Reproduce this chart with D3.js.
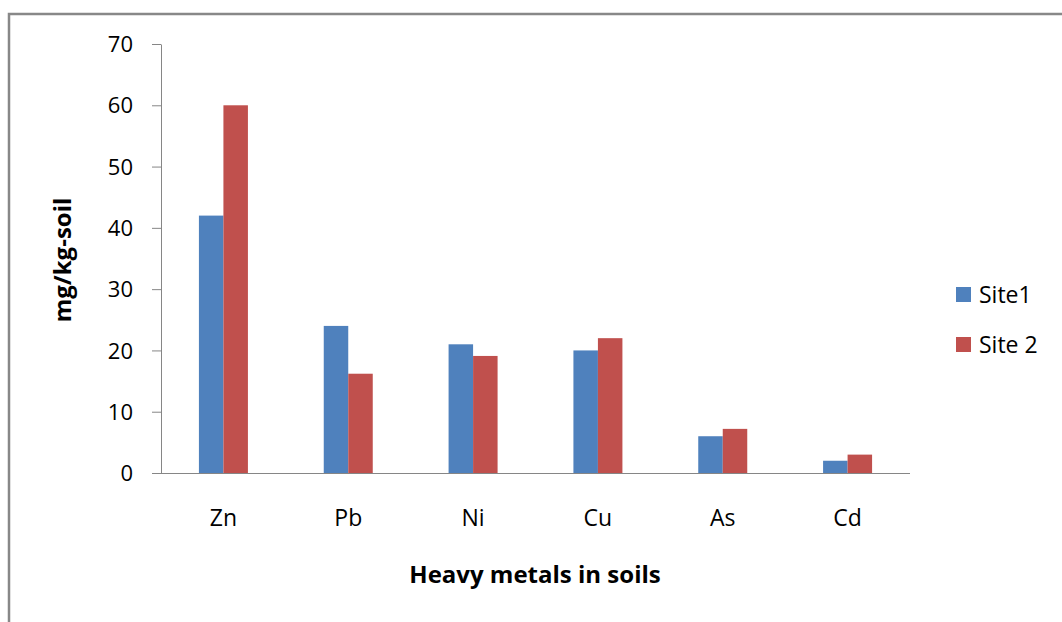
<!DOCTYPE html>
<html>
<head>
<meta charset="utf-8">
<script src="https://cdn.jsdelivr.net/npm/d3@7"></script>
<style>
	body { margin: 0; background: #fff; }
	svg text { font-family: "Open Sans", "Noto Sans", sans-serif; fill: #000; }
	.y.axis text { font-size: 22px; }
	.x.axis text { font-size: 23px; }
	.title { font-weight: bold; font-size: 24px; }
	.legend text { font-size: 23px; }
</style>
</head>
<body>
<div id="chart"></div>
<script>
"use strict";

var metals = ["Zn", "Pb", "Ni", "Cu", "As", "Cd"];
var seriesNames = ["Site1", "Site 2"];
var site1 = [42, 24, 21, 20, 6, 2];
var site2 = [60, 16.2, 19.1, 22, 7.2, 3];
var yTicks = [0, 10, 20, 30, 40, 50, 60, 70];
var colors = ["#4F81BD", "#C0504D"];

var W = 1062, H = 622;
var svg = d3.select("#chart").append("svg")
	.attr("width", W)
	.attr("height", H);

// outer frame
svg.append("rect")
	.attr("x", 9).attr("y", 14)
	.attr("width", W + 20).attr("height", H + 20)
	.attr("fill", "none")
	.attr("stroke", "#888")
	.attr("stroke-width", 2.5);

var plot = {left: 161, right: 910, top: 44, bottom: 473};

var scaleX = d3.scaleBand()
	.domain(metals)
	.range([plot.left, plot.right]);
var scaleY = d3.scaleLinear()
	.domain([0, 70])
	.range([plot.bottom, plot.top]);

var barW = 24.5;

// y axis
var yAxis = svg.append("g")
	.attr("class", "y axis")
	.attr("transform", "translate(" + plot.left + ",0)")
	.call(d3.axisLeft(scaleY).tickValues(yTicks).tickSizeInner(9).tickSizeOuter(0).tickPadding(19));
yAxis.select(".domain").attr("stroke", "#868686");
yAxis.selectAll(".tick line").attr("stroke", "#868686");
yAxis.selectAll(".tick text").attr("dy", "0.35em");

// bars
var rows = metals.map(function(m, i) {
	return {metal: m, values: [site1[i], site2[i]]};
});
var groups = svg.selectAll(".grp")
	.data(rows)
	.enter().append("g")
	.attr("class", "grp");
groups.selectAll("rect")
	.data(function(d) {
		return d.values.map(function(v, k) { return {metal: d.metal, v: v, k: k}; });
	})
	.enter().append("rect")
	.attr("x", function(d) {
		return scaleX(d.metal) + scaleX.bandwidth() / 2 - barW + d.k * barW;
	})
	.attr("y", function(d) { return scaleY(d.v); })
	.attr("width", barW)
	.attr("height", function(d) { return scaleY(0) - scaleY(d.v); })
	.attr("fill", function(d) { return colors[d.k]; });

// x axis
var xAxis = svg.append("g")
	.attr("class", "x axis")
	.attr("transform", "translate(0," + plot.bottom + ")")
	.call(d3.axisBottom(scaleX).tickSize(0).tickPadding(37));
xAxis.select(".domain")
	.attr("d", "M" + (plot.left - 9) + ",0.5H" + plot.right)
	.attr("stroke", "#868686");

// axis titles
svg.append("text")
	.attr("class", "title")
	.attr("transform", "translate(71,260) rotate(-90)")
	.attr("text-anchor", "middle")
	.text("mg/kg-soil");
svg.append("text")
	.attr("class", "title")
	.attr("x", 535)
	.attr("y", 583)
	.attr("text-anchor", "middle")
	.text("Heavy metals in soils");

// legend
var legend = svg.append("g").attr("class", "legend");
seriesNames.forEach(function(name, i) {
	var y = 287 + i * 50;
	legend.append("rect")
		.attr("x", 956).attr("y", y)
		.attr("width", 15).attr("height", 15)
		.attr("fill", colors[i]);
	legend.append("text")
		.attr("x", 979).attr("y", y + 8)
		.attr("dy", "0.35em")
		.text(name);
});
</script>
</body>
</html>
